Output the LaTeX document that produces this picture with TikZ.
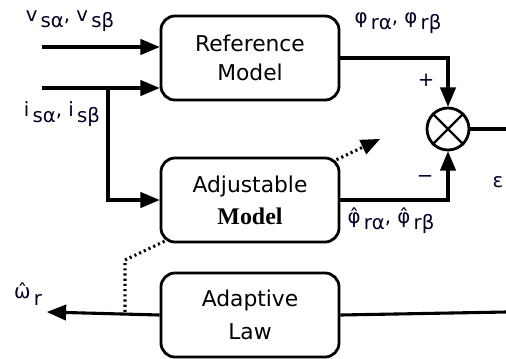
\documentclass[tikz,border=0pt]{standalone}
\usepackage{fontspec}
\setmainfont{DejaVu Sans}
\newfontfamily\serifmodel{Liberation Serif}
\usetikzlibrary{arrows}
\newcommand{\lowsub}[1]{\,\raisebox{-4.5pt}{#1}}
\tikzset{block/.style={draw,rounded corners=10pt,line width=2pt,fill=white,
	minimum width=4.45cm,minimum height=2.1cm,align=center,font=\fontsize{15.5}{21}\selectfont},
	sig/.style={line width=2.2pt},
	lbl/.style={text=black!85!blue,inner sep=0pt,font=\fontsize{14}{16}\selectfont}}

\begin{document}
\begin{tikzpicture}[x=0.025cm,y=-0.025cm,>=triangle 45]
\useasboundingbox (0,0) rectangle (506,358);

\coordinate (in1) at (42,47);
\coordinate (in2) at (42,88);
\coordinate (br) at (108,88);
\coordinate (eout) at (506,129);
\coordinate (ain) at (506,312);
\coordinate (wout) at (47,312);
\coordinate (d0) at (125,312);
\coordinate (d1) at (125,260);
\coordinate (d2) at (380,139);

\draw[sig,->,dash pattern=on 1.5pt off 2.2pt] (d0) -- (d1) -- (d2);

\node[block] (ref) at (250,58) {Reference\\Model};
\node[block] (adj) at (250,200) {Adjustable\\[2pt]{\serifmodel\bfseries\fontsize{17}{20}\selectfont Model}};
\node[block,font=\fontsize{15.5}{23}\selectfont] (adapt) at (250,315) {Adaptive\\Law};
\node[draw,circle,line width=2pt,minimum size=1.05cm,inner sep=0pt] (sum) at (448,129) {};
\draw[line width=1.7pt] (sum.north west) -- (sum.south east) (sum.north east) -- (sum.south west);

\draw[sig,->] (in1) -- (in1 -| ref.west);
\draw[sig,->] (in2) -- (in2 -| ref.west);
\draw[sig,->] (br) |- (adj.west);
\draw[sig,->] (ref.east) -| (sum.north);
\draw[sig,->] (adj.east) -| (sum.south);
\draw[sig] (sum.east) -- (eout);
\draw[sig] (ain) -- (adapt.east);
\draw[sig,->] (adapt.west) -- (wout);

\node[lbl] (vs) at (70,21) {v\lowsub{sα}, v\lowsub{sβ}};
\node[lbl] (is) at (62,114) {i\lowsub{sα}, i\lowsub{sβ}};
\node[lbl] (phi) at (398,23) {φ\lowsub{rα}, φ\lowsub{rβ}};
\node[lbl] (phih) at (391,221) {φ̂\lowsub{rα}, φ̂\lowsub{rβ}};
\node[lbl] (plus) at (426,80) {+};
\node[lbl] (minus) at (425,179) {−};
\node[lbl] (eps) at (498,182) {ε};
\node[lbl] (wr) at (28,294) {ω̂\lowsub{r}};
\end{tikzpicture}
\end{document}
